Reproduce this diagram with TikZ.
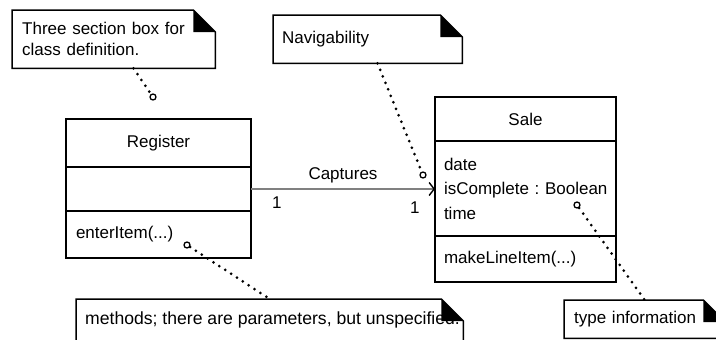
\documentclass[tikz,border=0pt]{standalone}
\usepackage{fontspec}
\setmainfont{Liberation Sans}
\usetikzlibrary{positioning, arrows.meta}
\frenchspacing

% outline of a note with its folded corner
\newcommand{\notefold}[1]{
    \draw [line width=1.5pt] (#1.north west) -- ([xshift=-22pt]#1.north east)
        -- ([yshift=-22pt]#1.north east) -- (#1.south east)
        -- (#1.south west) -- cycle;
    \fill ([xshift=-22pt]#1.north east) -- ([xshift=-22pt, yshift=-22pt]#1.north east)
        -- ([yshift=-22pt]#1.north east) -- cycle;
}

\tikzset{
    classpart/.style={draw, line width=1.5pt, inner sep=0pt, outer sep=0pt,
        inner xsep=10pt, align=left},
    notebox/.style={anchor=north west, inner ysep=0pt, inner xsep=10pt, align=left},
    notepin/.style={draw, circle, fill=white, line width=1.3pt,
        minimum size=6pt, inner sep=0pt},
    noteline/.style={line width=3pt, line cap=round, dash pattern=on 0pt off 7pt},
}

\begin{document}
\begin{tikzpicture}[x=1pt, y=-1pt, font=\fontsize{17}{21}\selectfont]
    \useasboundingbox (0,0) rectangle (716,340);
    \clip (0,0) rectangle (716,340);

    % Register
    \node [classpart,
        text width=165pt,
        minimum height=48pt,
        anchor=north west,
        align=center
    ] (register) at (66,119) {Register};
    \node [classpart,
        text width=165pt,
        minimum height=44pt,
        below=0pt of register
    ] (register attrs) {};
    \node [classpart,
        text width=165pt,
        minimum height=47pt,
        below=0pt of register attrs
    ] (register ops) {enterItem(...)};

    % Sale
    \node [classpart,
        text width=163pt,
        inner xsep=9pt,
        minimum height=44pt,
        anchor=north west,
        align=center
    ] (sale) at (435,97) {Sale};
    \node [classpart,
        text width=163pt,
        inner xsep=9pt,
        minimum height=95pt,
        below=0pt of sale,
        font=\fontsize{17}{24.5}\selectfont
    ] (sale attrs) {date\\ \mbox{isComplete : Boolean}\\ time};
    \node [classpart,
        text width=163pt,
        inner xsep=9pt,
        minimum height=46pt,
        below=0pt of sale attrs
    ] (sale ops) {makeLineItem(...)};

    % association
    \draw [gray, line width=2pt,
        -{Straight Barb[length=5pt, width=13pt, black, line width=1.4pt]}]
        (register attrs.east) -- (register attrs.east -| sale attrs.west)
        node [pos=0.5, above=2pt, text=black] {Captures}
        node [pos=0.14, below=3pt, text=black] {1}
        node [pos=0.89, below=8pt, text=black] {1};

    % notes
    \node [notebox,
        text width=183pt,
        minimum height=58pt
    ] (classnote) at (12,10) {Three section box for\\ class definition.};
    \notefold{classnote}

    \node [notebox,
        inner xsep=9pt,
        text width=171pt,
        minimum height=48pt
    ] (navnote) at (273,15) {Navigability};
    \notefold{navnote}

    \begin{scope}
        \clip (76,299) rectangle (463,360);
        \node [notebox,
            inner xsep=9pt,
            inner ysep=13pt,
            font=\fontsize{17.6}{21}\selectfont
        ] (methodsnote) at (76,299)
            {\makebox[369pt][l]{methods; there are parameters, but unspecified.}};
    \end{scope}
    \notefold{methodsnote}

    \node [notebox,
        text width=141pt,
        minimum height=38pt
    ] (typenote) at (564,300) {type information};
    \notefold{typenote}

    % anchors of the notes
    \node [notepin] (classpin) at (153,97) {};
    \node [notepin] (navpin) at (423,175) {};
    \node [notepin] (opspin) at (187,245) {};
    \node [notepin] (typepin) at (577,205) {};

    \draw [noteline] (classnote) -- (classpin);
    \draw [noteline] (navnote) -- (navpin);
    \draw [noteline] (opspin) -- (methodsnote.north);
    \draw [noteline] (typepin) -- (typenote.north);
\end{tikzpicture}
\end{document}
